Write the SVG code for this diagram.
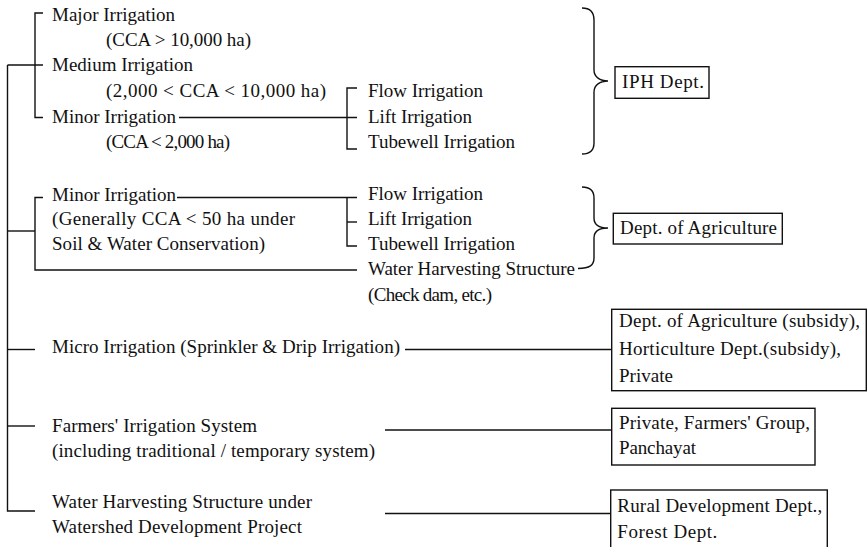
<svg xmlns="http://www.w3.org/2000/svg" width="867" height="547" viewBox="0 0 867 547">
  <style>
    text { font-family: "Liberation Serif", "Times New Roman", serif; font-size: 19px; fill: #111; }
    .ln { fill: none; stroke: #111; stroke-width: 1.4; }
    .box { fill: #fff; stroke: #111; stroke-width: 1.4; }
  </style>
  <rect width="867" height="547" fill="#fff"/>

  <!-- connectors: trunk, brackets, braces and leader lines -->
  <g id="connectors" class="ln">
    <path d="M7.5 65 V511 H35"/>
    <path d="M7.5 65 H43"/>
    <path d="M43 13 H35 V117.5 H43"/>
    <path d="M179 117.5 H357"/>
    <path d="M357 88 H347 V149 H357"/>
    <path d="M43 197.5 H35 V270 H357"/>
    <path d="M7.5 231 H35"/>
    <path d="M177 197.5 H357"/>
    <path d="M347 197.5 V246 H357"/>
    <path d="M347 222 H357"/>
    <path d="M7.5 349.5 H35"/>
    <path d="M7.5 426 H35"/>
    <path d="M405 349.5 H611.7"/>
    <path d="M385 430 H611.7"/>
    <path d="M385 513.5 H610.7"/>
    <path d="M582 8 C590 8 594 12 594 20 L594 70 C594 77 600 81 608 81 C600 81 594 85 594 92 L594 143 C594 150 590 154 582 154"/>
    <path d="M582 187 C590 187 594 191 594 198 L594 218 C594 225 600 228 608 228 C600 228 594 231 594 238 L594 258 C594 265 590 268.5 578 268.5"/>
  </g>

  <!-- large canal schemes -->
  <g id="major">
    <text x="52" y="20.5" textLength="123" lengthAdjust="spacing">Major Irrigation</text>
    <text x="106" y="45.5" textLength="145" lengthAdjust="spacing">(CCA &gt; 10,000 ha)</text>
  </g>
  <g id="medium">
    <text x="52" y="71" textLength="141" lengthAdjust="spacing">Medium Irrigation</text>
    <text x="106" y="96.5" textLength="220" lengthAdjust="spacing">(2,000 &lt; CCA &lt; 10,000 ha)</text>
  </g>
  <g id="minor-iph">
    <text x="52" y="122.5" textLength="124" lengthAdjust="spacing">Minor Irrigation</text>
    <text x="106" y="148" textLength="124" lengthAdjust="spacing">(CCA &lt; 2,000 ha)</text>
  </g>
  <g id="minor-iph-types">
    <text x="368" y="97" textLength="115" lengthAdjust="spacing">Flow Irrigation</text>
    <text x="368" y="122.5" textLength="104" lengthAdjust="spacing">Lift Irrigation</text>
    <text x="368" y="148" textLength="147" lengthAdjust="spacing">Tubewell Irrigation</text>
  </g>
  <g id="iph">
    <rect class="box" x="615" y="66.7" width="94" height="31.6"/>
    <text x="622" y="87.5" textLength="82" lengthAdjust="spacing">IPH Dept.</text>
  </g>

  <!-- soil and water conservation schemes -->
  <g id="minor-agri">
    <text x="52" y="200.5" textLength="124" lengthAdjust="spacing">Minor Irrigation</text>
    <text x="52" y="225" textLength="243" lengthAdjust="spacing">(Generally CCA &lt; 50 ha under</text>
    <text x="52" y="250" textLength="213" lengthAdjust="spacing">Soil &amp; Water Conservation)</text>
  </g>
  <g id="minor-agri-types">
    <text x="368" y="200" textLength="115" lengthAdjust="spacing">Flow Irrigation</text>
    <text x="368" y="225" textLength="104" lengthAdjust="spacing">Lift Irrigation</text>
    <text x="368" y="250" textLength="147" lengthAdjust="spacing">Tubewell Irrigation</text>
  </g>
  <g id="water-harvesting">
    <text x="368" y="275" textLength="207" lengthAdjust="spacing">Water Harvesting Structure</text>
    <text x="368" y="300.5" textLength="124" lengthAdjust="spacing">(Check dam, etc.)</text>
  </g>
  <g id="agriculture">
    <rect class="box" x="613.3" y="213.3" width="169" height="30.7"/>
    <text x="620" y="233.5" textLength="157" lengthAdjust="spacing">Dept. of Agriculture</text>
  </g>

  <!-- other systems -->
  <g id="micro">
    <text x="52" y="353" textLength="348" lengthAdjust="spacing">Micro Irrigation (Sprinkler &amp; Drip Irrigation)</text>
  </g>
  <g id="micro-agency">
    <rect class="box" x="611.7" y="309.3" width="254.6" height="81.4"/>
    <text x="619" y="327" textLength="241" lengthAdjust="spacing">Dept. of Agriculture (subsidy),</text>
    <text x="619" y="355" textLength="222" lengthAdjust="spacing">Horticulture Dept.(subsidy),</text>
    <text x="619" y="381.5" textLength="54" lengthAdjust="spacing">Private</text>
  </g>
  <g id="farmers">
    <text x="52" y="431.5" textLength="205" lengthAdjust="spacing">Farmers' Irrigation System</text>
    <text x="52" y="456.5" textLength="323" lengthAdjust="spacing">(including traditional / temporary system)</text>
  </g>
  <g id="farmers-agency">
    <rect class="box" x="611.7" y="408.3" width="203.3" height="56.7"/>
    <text x="619" y="428.5" textLength="191" lengthAdjust="spacing">Private, Farmers' Group,</text>
    <text x="619" y="454" textLength="77" lengthAdjust="spacing">Panchayat</text>
  </g>
  <g id="watershed">
    <text x="52" y="508" textLength="260" lengthAdjust="spacing">Water Harvesting Structure under</text>
    <text x="52" y="533" textLength="250" lengthAdjust="spacing">Watershed Development Project</text>
  </g>
  <g id="watershed-agency">
    <rect class="box" x="610.7" y="490" width="216.6" height="62"/>
    <text x="617.3" y="511.5" textLength="205" lengthAdjust="spacing">Rural Development Dept.,</text>
    <text x="617.3" y="538" textLength="100" lengthAdjust="spacing">Forest Dept.</text>
  </g>
</svg>
